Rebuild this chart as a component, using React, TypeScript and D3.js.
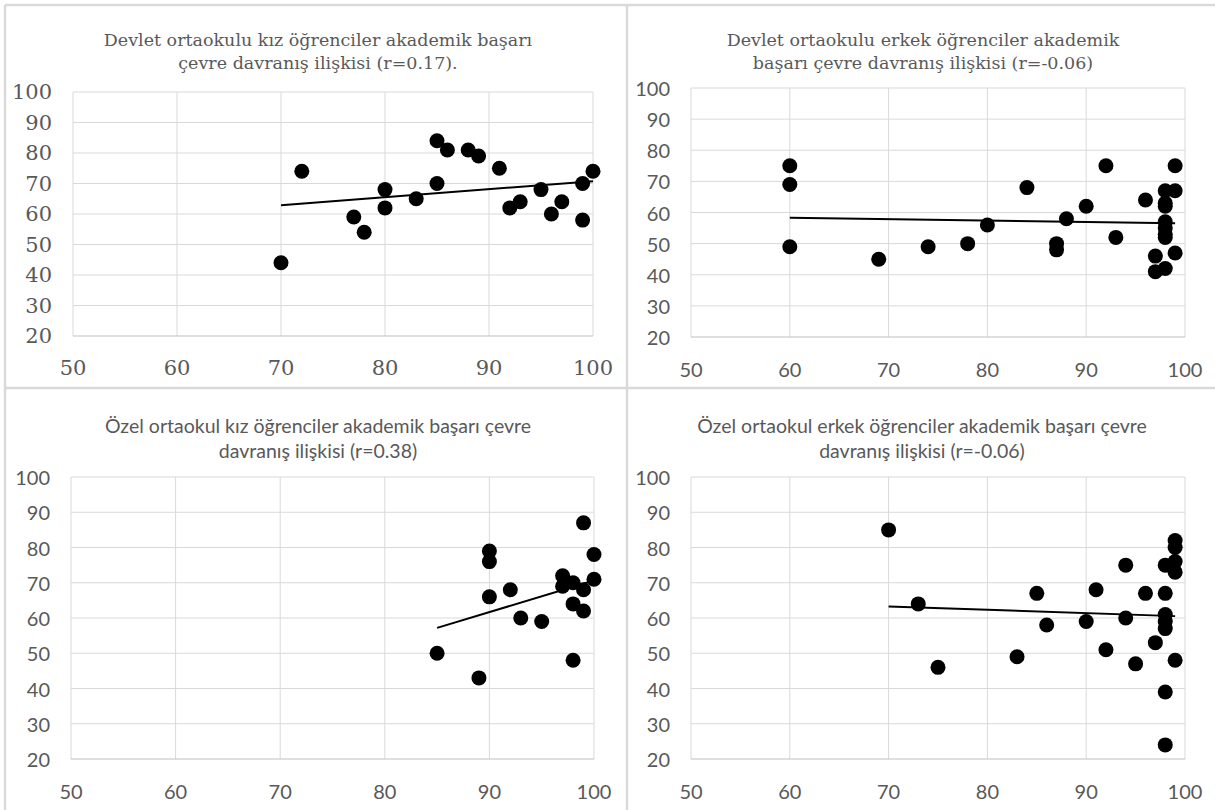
import React from "react";
import * as d3 from "d3";

// ---------- data ----------
const xTicks = [50, 60, 70, 80, 90, 100];
const yTicks = [20, 30, 40, 50, 60, 70, 80, 90, 100];

const titleDevletKiz = ["Devlet ortaokulu kız öğrenciler akademik başarı", "çevre davranış ilişkisi (r=0.17)."];
const titleDevletErkek = ["Devlet ortaokulu erkek öğrenciler akademik", "başarı çevre davranış ilişkisi (r=-0.06)"];
const titleOzelKiz = ["Özel ortaokul kız öğrenciler akademik başarı çevre", "davranış ilişkisi (r=0.38)"];
const titleOzelErkek = ["Özel ortaokul erkek öğrenciler akademik başarı çevre", "davranış ilişkisi (r=-0.06)"];

const devletKizX = [70, 72, 77, 78, 80, 80, 83, 85, 85, 86, 88, 89, 91, 92, 93, 95, 96, 97, 99, 99, 100];
const devletKizY = [44, 74, 59, 54, 68, 62, 65, 84, 70, 81, 81, 79, 75, 62, 64, 68, 60, 64, 70, 58, 74];

const devletErkekX = [60, 60, 60, 69, 74, 78, 80, 84, 87, 87, 88, 90, 92, 93, 96, 97, 97, 98, 98, 98, 98, 98, 98, 98, 98, 99, 99, 99];
const devletErkekY = [75, 69, 49, 45, 49, 50, 56, 68, 50, 48, 58, 62, 75, 52, 64, 46, 41, 67, 63, 62, 57, 55, 53, 52, 42, 75, 67, 47];

const ozelKizX = [85, 89, 90, 90, 90, 92, 93, 95, 97, 97, 98, 98, 98, 99, 99, 99, 100, 100];
const ozelKizY = [50, 43, 79, 76, 66, 68, 60, 59, 72, 69, 70, 64, 48, 87, 68, 62, 78, 71];

const ozelErkekX = [70, 73, 75, 83, 85, 86, 90, 91, 92, 94, 94, 95, 96, 97, 98, 98, 98, 98, 98, 98, 98, 99, 99, 99, 99, 99];
const ozelErkekY = [85, 64, 46, 49, 67, 58, 59, 68, 51, 75, 60, 47, 67, 53, 75, 67, 61, 59, 57, 39, 24, 82, 80, 76, 73, 48];

// ---------- layout / style ----------
const SERIF = "'DejaVu Serif', 'Liberation Serif', serif";
const SANS = "Lato, 'Open Sans', sans-serif";
const TEXT = "#595959";
const GRID = "#d9d9d9";

type Panel = {
  xs: number[];
  ys: number[];
  title: string[];
  left: number;
  right: number;
  top: number;
  bottom: number;
  titleX: number;
  titleY: number[];
  titleFont: string;
  titleSize: number;
  tickFont: string;
  tickSize: number;
};

const panels: Panel[] = [
  { xs: devletKizX, ys: devletKizY, title: titleDevletKiz, left: 73, right: 593, top: 92, bottom: 336, titleX: 318, titleY: [40, 63], titleFont: SERIF, titleSize: 17.5, tickFont: SERIF, tickSize: 21 },
  { xs: devletErkekX, ys: devletErkekY, title: titleDevletErkek, left: 691, right: 1185, top: 88, bottom: 337, titleX: 923, titleY: [40, 63], titleFont: SERIF, titleSize: 17.5, tickFont: SANS, tickSize: 20 },
  { xs: ozelKizX, ys: ozelKizY, title: titleOzelKiz, left: 71, right: 594, top: 477, bottom: 759, titleX: 318, titleY: [425, 450], titleFont: SANS, titleSize: 19.5, tickFont: SANS, tickSize: 20 },
  { xs: ozelErkekX, ys: ozelErkekY, title: titleOzelErkek, left: 691, right: 1185, top: 477, bottom: 759, titleX: 922, titleY: [425, 450], titleFont: SANS, titleSize: 19.5, tickFont: SANS, tickSize: 20 },
];

function regression(xs: number[], ys: number[]) {
  const mx = d3.mean(xs) as number;
  const my = d3.mean(ys) as number;
  const sxy = d3.sum(xs.map((x, i) => (x - mx) * (ys[i] - my)));
  const sxx = d3.sum(xs.map((x) => (x - mx) * (x - mx)));
  const b = sxy / sxx;
  const a = my - b * mx;
  return (x: number) => a + b * x;
}

function ScatterPanel({ p }: { p: Panel }) {
  const x = d3.scaleLinear().domain([50, 100]).range([p.left, p.right]);
  const y = d3.scaleLinear().domain([20, 100]).range([p.bottom, p.top]);
  const f = regression(p.xs, p.ys);
  const [x0, x1] = d3.extent(p.xs) as [number, number];
  const line = d3.line<number>().x((d) => x(d)).y((d) => y(f(d)));
  return (
    <g>
      {p.title.map((t, i) => (
        <text key={"t" + i} x={p.titleX} y={p.titleY[i]} textAnchor="middle" dominantBaseline="central"
          fontFamily={p.titleFont} fontSize={p.titleSize} fill={TEXT}>{t}</text>
      ))}
      {xTicks.map((t) => (
        <line key={"gx" + t} x1={x(t)} x2={x(t)} y1={p.top} y2={p.bottom} stroke={GRID} strokeWidth={1} />
      ))}
      {yTicks.map((t) => (
        <line key={"gy" + t} x1={p.left} x2={p.right} y1={y(t)} y2={y(t)} stroke={t === 20 ? "#bfbfbf" : GRID} strokeWidth={1} />
      ))}
      {yTicks.map((t) => (
        <text key={"ly" + t} x={p.left - 21} y={y(t)} textAnchor="end" dominantBaseline="central"
          fontFamily={p.tickFont} fontSize={p.tickSize} fill={TEXT}>{t}</text>
      ))}
      {xTicks.map((t) => (
        <text key={"lx" + t} x={x(t)} y={p.bottom + 32} textAnchor="middle" dominantBaseline="central"
          fontFamily={p.tickFont} fontSize={p.tickSize} fill={TEXT}>{t}</text>
      ))}
      {p.xs.map((v, i) => (
        <circle key={"c" + i} cx={x(v)} cy={y(p.ys[i])} r={7.5} fill="#000" />
      ))}
      <path d={line([x0, x1]) as string} stroke="#000" strokeWidth={2} fill="none" />
    </g>
  );
}

export default function App() {
  return (
    <svg width={1215} height={810} style={{ position: "absolute", left: 0, top: 0, background: "#fff" }}>
      <rect x={0} y={0} width={1215} height={810} fill="#fff" />
      {/* panel frames */}
      <line x1={5} x2={1215} y1={5} y2={5} stroke={GRID} strokeWidth={2.5} />
      <line x1={5} x2={5} y1={5} y2={810} stroke={GRID} strokeWidth={2.5} />
      <line x1={627} x2={627} y1={5} y2={810} stroke={GRID} strokeWidth={2.5} />
      <line x1={5} x2={1215} y1={388} y2={388} stroke={GRID} strokeWidth={2.5} />
      {panels.map((p, i) => (
        <ScatterPanel key={i} p={p} />
      ))}
    </svg>
  );
}
